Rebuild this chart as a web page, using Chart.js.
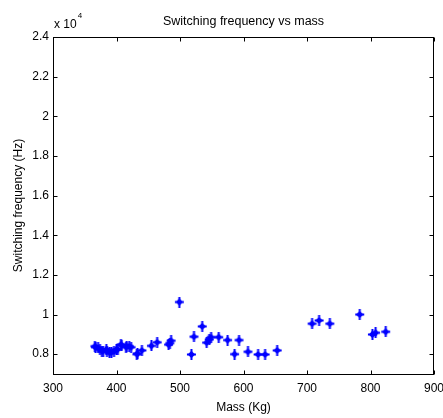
<!DOCTYPE html>
<html><head><meta charset="utf-8">
<style>html,body{margin:0;padding:0;background:#fff}#w{width:443px;height:418px}</style>
<script src="https://cdn.jsdelivr.net/npm/chart.js@4.4.1/dist/chart.umd.min.js"></script>
</head><body><div id="w"><canvas id="c" width="443" height="418"></canvas></div>
<script>
const massKg = [366,367,371,374,377,379,384,385,389,392,396,400,402,407,408,415,416,420,423,432,433,440,455,464,482,484,486,499,518,522,535,542,546,549,561,575,586,593,607,623,634,653,708,719,736,783,803,808,824];
const switchingFreqHz = [8400,8350,8320,8240,8150,8150,8240,8150,8070,8100,8120,8240,8240,8490,8450,8350,8400,8400,8350,8000,8030,8190,8420,8600,8480,8560,8680,10630,7985,8880,9400,8580,8740,8860,8860,8710,8000,8710,8120,7985,7985,8190,9535,9700,9535,10000,8995,9080,9130];
const xTickValues = [300,400,500,600,700,800,900];
const yTickValues = [8000,10000,12000,14000,16000,18000,20000,22000,24000];
const yExponent = 4;
const chartTitle = 'Switching frequency vs mass';

const FONT = "'Liberation Sans', Arial, sans-serif";

// marker image: blue diamond with plus
const mk = document.createElement('canvas');
mk.width = 11; mk.height = 11;
(function(){
  const g = mk.getContext('2d');
  g.fillStyle = '#0000ff'; g.strokeStyle = '#0000ff';
  g.beginPath(); g.moveTo(5.5,1.8); g.lineTo(9.2,5.5); g.lineTo(5.5,9.2); g.lineTo(1.8,5.5); g.closePath(); g.fill();
  g.lineWidth = 2;
  g.beginPath(); g.moveTo(5.5,0); g.lineTo(5.5,11); g.moveTo(1,5.5); g.lineTo(10,5.5); g.stroke();
})();

const points = massKg.map((m,i)=>({x:m, y:switchingFreqHz[i]}));

const frame = {
  id:'frame',
  afterDatasetsDraw(chart){
    const {ctx, chartArea:a, scales:{x,y}} = chart;
    ctx.save();
    ctx.strokeStyle = '#000'; ctx.lineWidth = 1;
    const L = Math.round(a.left)+0.5, R = Math.round(a.right)-0.5, T = Math.round(a.top)+0.5, B = Math.round(a.bottom)+0.5;
    ctx.strokeRect(L, T, R-L, B-T);
    const tl = 4;
    ctx.beginPath();
    xTickValues.forEach(v=>{
      const px = Math.round(x.getPixelForValue(v))+0.5;
      ctx.moveTo(px,B); ctx.lineTo(px,B-tl);
      ctx.moveTo(px,T); ctx.lineTo(px,T+tl);
    });
    yTickValues.forEach(v=>{
      const py = Math.round(y.getPixelForValue(v))+0.5;
      ctx.moveTo(L,py); ctx.lineTo(L+tl,py);
      ctx.moveTo(R,py); ctx.lineTo(R-tl,py);
    });
    ctx.stroke();
    ctx.fillStyle = '#000';
    // title centred over the plot area
    ctx.textBaseline = 'alphabetic'; ctx.textAlign = 'center';
    ctx.font = '12.5px ' + FONT;
    ctx.fillText(chartTitle, (a.left + a.right) / 2, 25);
    // exponent label
    ctx.textAlign = 'left';
    ctx.font = '12px ' + FONT;
    const base = 'x 10';
    ctx.fillText(base, 54, 28);
    const w = ctx.measureText(base).width;
    ctx.font = '8px ' + FONT;
    ctx.fillText(String(yExponent), 54 + w + 1, 18);
    ctx.restore();
  }
};

new Chart(document.getElementById('c'), {
  type:'scatter',
  data:{datasets:[{data:points, pointStyle:mk, pointRadius:5, pointHoverRadius:5, backgroundColor:'#0000ff', borderColor:'#0000ff'}]},
  options:{
    responsive:false, animation:false, devicePixelRatio:1,
    layout:{padding:{left:0,right:0,top:37,bottom:0}},
    plugins:{
      legend:{display:false}, tooltip:{enabled:false}, title:{display:false}
    },
    scales:{
      x:{type:'linear', min:300, max:900,
        afterBuildTicks(s){ s.ticks = xTickValues.map(v=>({value:v})); },
        afterFit(s){ s.height = 44; s.paddingRight = 9; s.paddingLeft = 0; },
        grid:{display:false, drawTicks:false}, border:{display:false},
        ticks:{color:'#000', font:{family:FONT,size:12}, padding:7, maxRotation:0, autoSkip:false},
        title:{display:true, text:'Mass (Kg)', color:'#000', font:{family:FONT,size:12}, padding:{top:0,bottom:3}}
      },
      y:{type:'linear', min:7000, max:24000,
        afterBuildTicks(s){ s.ticks = yTickValues.map(v=>({value:v})); },
        afterFit(s){ s.width = 53; s.paddingTop = 0; s.paddingBottom = 0; },
        grid:{display:false, drawTicks:false}, border:{display:false},
        ticks:{color:'#000', font:{family:FONT,size:12}, padding:4, autoSkip:false,
          callback:(v)=>String(v/Math.pow(10,yExponent))},
        title:{display:true, text:'Switching frequency (Hz)', color:'#000', font:{family:FONT,size:12}, padding:{top:11,bottom:0}}
      }
    }
  },
  plugins:[frame]
});
</script>
</body></html>
